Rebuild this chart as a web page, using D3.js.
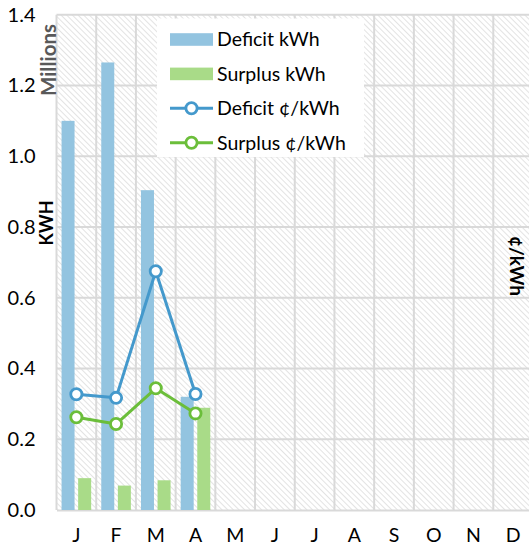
<!DOCTYPE html>
<html>
<head>
<meta charset="utf-8">
<script src="https://cdn.jsdelivr.net/npm/d3@7"></script>
<style>
  html, body { margin: 0; padding: 0; background: #fff; }
  svg { display: block; font-family: Lato, "Open Sans", sans-serif; }
</style>
</head>
<body>
<svg id="chart" width="529" height="548"></svg>
<script>
// Monthly energy balance: bars in millions of kWh, lines in ¢/kWh
const months = ["J", "F", "M", "A", "M", "J", "J", "A", "S", "O", "N", "D"];
const deficitKwh = [1.10, 1.265, 0.904, 0.32, null, null, null, null, null, null, null, null];
const surplusKwh = [0.09, 0.069, 0.084, 0.289, null, null, null, null, null, null, null, null];
const deficitCents = [3.27, 3.17, 6.75, 3.28, null, null, null, null, null, null, null, null];
const surplusCents = [2.62, 2.43, 3.44, 2.73, null, null, null, null, null, null, null, null];
const leftTicks = [0, 0.2, 0.4, 0.6, 0.8, 1.0, 1.2, 1.4];
const legendItems = [
  { label: "Deficit kWh", kind: "bar", color: "#93C4E0" },
  { label: "Surplus kWh", kind: "bar", color: "#A9DB88" },
  { label: "Deficit ¢/kWh", kind: "line", color: "#4499CC" },
  { label: "Surplus ¢/kWh", kind: "line", color: "#6BBE3A" }
];

const svg = d3.select("#chart");
const plot = { left: 56.5, right: 533, top: 14.7, bottom: 510 };

const x = d3.scaleBand().domain(d3.range(months.length)).range([plot.left, plot.right]).padding(0);
const y = d3.scaleLinear().domain([0, 1.4]).range([plot.bottom, plot.top]);
const y2 = d3.scaleLinear().domain([0, 14]).range([plot.bottom, plot.top]);

// hatched plot background (lines running down to the right)
const defs = svg.append("defs");
const pat = defs.append("pattern")
  .attr("id", "hatch").attr("patternUnits", "userSpaceOnUse")
  .attr("width", 4).attr("height", 4)
  .attr("patternTransform", "rotate(-45)");
pat.append("rect").attr("width", 4).attr("height", 4).attr("fill", "#fff");
pat.append("line").attr("x1", 0).attr("y1", 0).attr("x2", 0).attr("y2", 4)
  .attr("stroke", "#d4d4d4").attr("stroke-width", 1.3);

svg.append("rect")
  .attr("x", plot.left).attr("y", plot.top)
  .attr("width", plot.right - plot.left).attr("height", plot.bottom - plot.top)
  .attr("fill", "url(#hatch)");

// gridlines
const grid = svg.append("g").attr("stroke", "#d9d9d9").attr("stroke-width", 2);
grid.selectAll(".h").data(leftTicks.slice(1)).join("line")
  .attr("x1", plot.left).attr("x2", plot.right)
  .attr("y1", d => y(d)).attr("y2", d => y(d));
grid.selectAll(".v").data(d3.range(months.length + 1)).join("line")
  .attr("x1", i => plot.left + i * x.bandwidth()).attr("x2", i => plot.left + i * x.bandwidth())
  .attr("y1", plot.top).attr("y2", plot.bottom);

// left axis
const yAxis = svg.append("g")
  .attr("transform", `translate(${plot.left},0)`)
  .call(d3.axisLeft(y).tickValues(leftTicks).tickFormat(d3.format(".1f")).tickSize(0).tickPadding(21));
yAxis.select(".domain").remove();
yAxis.selectAll("text").attr("font-size", 20).attr("fill", "#000").attr("font-family", "Lato, sans-serif");

// bottom axis
const xAxis = svg.append("g")
  .attr("transform", `translate(0,${plot.bottom})`)
  .call(d3.axisBottom(x).tickFormat(i => months[i]).tickSize(0).tickPadding(18));
xAxis.select(".domain").attr("stroke", "#d9d9d9").attr("stroke-width", 2);
xAxis.selectAll("text").attr("font-size", 19.5).attr("fill", "#000").attr("font-family", "Lato, sans-serif");

// bars
const barW = 13, gap = 3.6;
const bw = x.bandwidth();
svg.append("g").selectAll("rect").data(deficitKwh.map((v, i) => ({ v, i })).filter(d => d.v != null)).join("rect")
  .attr("x", d => x(d.i) + bw / 2 - gap / 2 - barW)
  .attr("width", barW)
  .attr("y", d => y(d.v)).attr("height", d => y(0) - y(d.v))
  .attr("fill", legendItems[0].color);
svg.append("g").selectAll("rect").data(surplusKwh.map((v, i) => ({ v, i })).filter(d => d.v != null)).join("rect")
  .attr("x", d => x(d.i) + bw / 2 + gap / 2)
  .attr("width", barW)
  .attr("y", d => y(d.v)).attr("height", d => y(0) - y(d.v))
  .attr("fill", legendItems[1].color);

// lines on secondary axis
function drawSeries(values, color) {
  const pts = values.map((v, i) => ({ v, i })).filter(d => d.v != null);
  const line = d3.line().x(d => x(d.i) + bw / 2).y(d => y2(d.v));
  svg.append("path").datum(pts).attr("d", line)
    .attr("fill", "none").attr("stroke", color).attr("stroke-width", 3).attr("stroke-linejoin", "round");
  svg.append("g").selectAll("circle").data(pts).join("circle")
    .attr("cx", d => x(d.i) + bw / 2).attr("cy", d => y2(d.v)).attr("r", 5.6)
    .attr("fill", "#fff").attr("stroke", color).attr("stroke-width", 2.8);
}
drawSeries(deficitCents, legendItems[2].color);
drawSeries(surplusCents, legendItems[3].color);

// axis titles
svg.append("text")
  .attr("transform", "translate(56,60) rotate(-90)")
  .attr("text-anchor", "middle").attr("font-size", 20.5).attr("font-weight", "bold")
  .attr("fill", "#595959").text("Millions");
svg.append("text")
  .attr("transform", "translate(52.5,223) rotate(-90)")
  .attr("text-anchor", "middle").attr("font-size", 18).attr("font-weight", "bold")
  .attr("fill", "#000").text("KWH");
svg.append("text")
  .attr("transform", "translate(510,266) rotate(90)")
  .attr("text-anchor", "middle").attr("font-size", 19).attr("font-weight", "bold")
  .attr("fill", "#000").text("¢/kWh");

// legend
const lg = svg.append("g");
lg.append("rect").attr("x", 157).attr("y", 18.5).attr("width", 207).attr("height", 138.5).attr("fill", "#fff");
const rowY = d3.scalePoint().domain(legendItems.map(d => d.label)).range([39.5, 142.7]);
const row = lg.selectAll("g").data(legendItems).join("g")
  .attr("transform", d => `translate(0,${rowY(d.label)})`);
row.filter(d => d.kind === "bar").append("rect")
  .attr("x", 170).attr("y", -6.3).attr("width", 43).attr("height", 12.6).attr("fill", d => d.color);
row.filter(d => d.kind === "line").append("line")
  .attr("x1", 170).attr("x2", 213).attr("y1", 0).attr("y2", 0)
  .attr("stroke", d => d.color).attr("stroke-width", 3);
row.filter(d => d.kind === "line").append("circle")
  .attr("cx", 191.5).attr("cy", 0).attr("r", 5.6)
  .attr("fill", "#fff").attr("stroke", d => d.color).attr("stroke-width", 2.8);
row.append("text").attr("x", 217).attr("y", 0).attr("dy", "0.35em")
  .attr("font-size", 19.5).attr("fill", "#000").text(d => d.label);
</script>
</body>
</html>
